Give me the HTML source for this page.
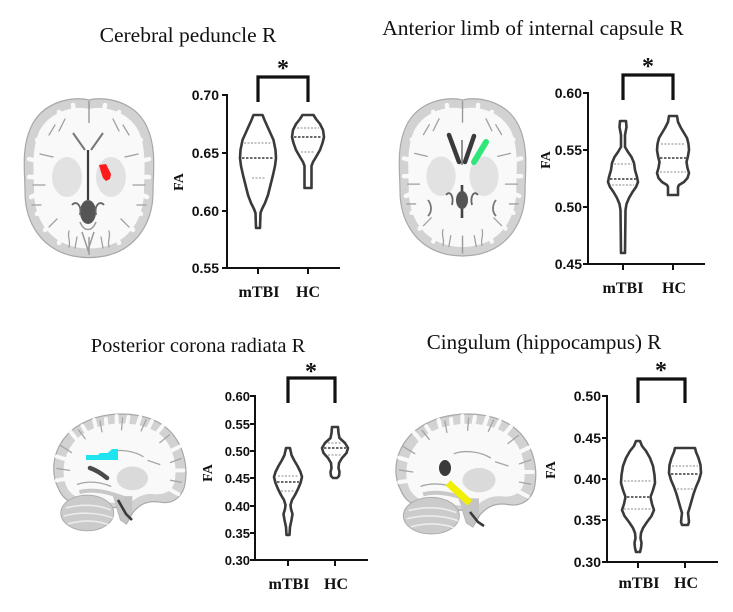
<!DOCTYPE html>
<html>
<head>
<meta charset="utf-8">
<style>
  html,body{margin:0;padding:0;background:#fff;}
  svg{display:block;}
  .title{font-family:"Liberation Serif",serif;font-size:21px;fill:#111;}
  .tick{font-family:"Liberation Sans",sans-serif;font-weight:bold;font-size:14px;fill:#111;}
  .tick13{font-family:"Liberation Sans",sans-serif;font-weight:bold;font-size:13px;fill:#111;}
  .grp{font-family:"Liberation Serif",serif;font-weight:bold;font-size:16px;fill:#111;}
  .fa{font-family:"Liberation Serif",serif;font-weight:bold;font-size:14px;fill:#111;}
  .star{font-family:"Liberation Serif",serif;font-weight:bold;font-size:24px;fill:#111;}
  .ax{stroke:#111;stroke-width:2;fill:none;}
  .br{stroke:#111;stroke-width:3.2;fill:none;stroke-linecap:butt;}
  .vio{stroke:#3a3a3a;stroke-width:2.6;fill:#fff;stroke-linejoin:round;}
  .ql{stroke:#b0b0b0;stroke-width:1.4;stroke-dasharray:2 1.5;}
  .md{stroke:#555;stroke-width:1.8;stroke-dasharray:2.5 1.5;}
</style>
</head>
<body>
<svg width="733" height="612" viewBox="0 0 733 612" xmlns="http://www.w3.org/2000/svg">
<defs>
  <g id="axial">
    <path d="M64,3 C80,-1 110,4 122,30 C132,52 128,75 128,95 C128,125 112,152 80,159 C70,161 58,161 48,159 C16,152 0,125 0,95 C0,75 -4,52 6,30 C18,4 48,-1 64,3 Z" fill="#d2d2d2" stroke="#a8a8a8" stroke-width="1.2"/>
    <path d="M64,12 C78,8 104,14 114,35 C122,54 119,76 119,94 C119,121 105,144 78,150 C70,152 58,152 50,150 C23,144 9,121 9,94 C9,76 6,54 14,35 C24,14 50,8 64,12 Z" fill="#f9f9f9"/>
    <g stroke="#f9f9f9" stroke-width="4.5" stroke-linecap="round">
      <line x1="112" y1="80" x2="124" y2="80"/>
      <line x1="106" y1="110" x2="116" y2="117"/>
      <line x1="88" y1="133" x2="94" y2="146"/>
      <line x1="40" y1="133" x2="34" y2="146"/>
      <line x1="22" y1="110" x2="12" y2="117"/>
      <line x1="16" y1="80" x2="4" y2="80"/>
      <line x1="22" y1="50" x2="12" y2="43"/>
      <line x1="40" y1="27" x2="34" y2="15"/>
      <line x1="88" y1="27" x2="94" y2="15"/>
      <line x1="106" y1="50" x2="116" y2="43"/>
      <line x1="110" y1="95" x2="122" y2="100"/>
      <line x1="18" y1="95" x2="6" y2="100"/>
      <line x1="50" y1="22" x2="48" y2="8"/>
      <line x1="78" y1="22" x2="80" y2="8"/>
      <line x1="112" y1="65" x2="124" y2="62"/>
      <line x1="16" y1="65" x2="4" y2="62"/>
      <line x1="100" y1="124" x2="108" y2="133"/>
      <line x1="28" y1="124" x2="20" y2="133"/>
    </g>
    <g stroke="#a0a0a0" stroke-width="1.3" stroke-linecap="round" fill="none">
      <path d="M100,60 L113,57"/><path d="M28,60 L15,57"/>
      <path d="M96,122 L104,130"/><path d="M32,122 L24,130"/>
      <path d="M76,140 L78,151"/><path d="M52,140 L50,151"/>
      <path d="M104,38 L98,28"/><path d="M24,38 L30,28"/>
      <path d="M112,108 L121,108"/><path d="M16,108 L7,108"/>
      <path d="M108,88 L120,88"/><path d="M20,88 L8,88"/>
      <path d="M94,34 L88,22"/><path d="M34,34 L40,22"/>
      <path d="M84,134 C86,140 82,144 84,150"/><path d="M44,134 C42,140 46,144 44,150"/>
    </g>
    <ellipse cx="42" cy="80" rx="15" ry="20" fill="#e2e2e2"/>
    <ellipse cx="86" cy="80" rx="15" ry="20" fill="#e2e2e2"/>
    <line x1="64" y1="4" x2="64" y2="26" stroke="#999" stroke-width="1.4"/>
    <line x1="64" y1="140" x2="64" y2="158" stroke="#999" stroke-width="1.4"/>
  </g>
  <g id="sag">
    <path d="M8,75 C-2,55 5,22 38,8 C62,-3 102,-2 122,18 C136,32 142,55 137,75 C133,88 122,92 112,90 C100,88 92,92 85,100 L78,112 L72,108 L68,95 C60,98 40,95 28,92 C18,90 12,85 8,75 Z" fill="#d2d2d2" stroke="#a8a8a8" stroke-width="1.2"/>
    <path d="M16,72 C10,56 16,28 41,17 C64,7 99,8 116,25 C127,37 130,56 127,70 C124,80 115,83 106,82 C96,81 88,85 82,91 L74,91 C60,91 40,89 30,86 C22,83 18,78 16,72 Z" fill="#f9f9f9"/>
    <g stroke="#f9f9f9" stroke-width="4" stroke-linecap="round">
      <line x1="30" y1="30" x2="21" y2="19"/><line x1="48" y1="20" x2="45" y2="7"/>
      <line x1="68" y1="16" x2="68" y2="3"/><line x1="88" y1="16" x2="92" y2="4"/>
      <line x1="106" y1="24" x2="115" y2="13"/><line x1="120" y1="40" x2="132" y2="34"/>
      <line x1="124" y1="58" x2="136" y2="58"/><line x1="120" y1="76" x2="131" y2="82"/>
      <line x1="20" y1="48" x2="7" y2="44"/><line x1="20" y1="66" x2="7" y2="68"/>
      <line x1="58" y1="18" x2="57" y2="6"/><line x1="78" y1="16" x2="80" y2="4"/>
      <line x1="98" y1="20" x2="104" y2="8"/><line x1="40" y1="24" x2="33" y2="13"/>
    </g>
    <g stroke="#a6a6a6" stroke-width="1.3" fill="none" stroke-linecap="round">
      <path d="M36,26 L29,17"/><path d="M53,19 L51,8"/><path d="M73,17 L74,5"/>
      <path d="M93,18 L98,7"/><path d="M112,30 L122,22"/><path d="M123,50 L134,46"/>
      <path d="M123,68 L134,70"/><path d="M22,40 L11,33"/><path d="M20,58 L7,56"/>
      <path d="M60,40 C70,36 85,38 95,44"/><path d="M100,48 L112,52"/>
      <path d="M28,72 C40,68 52,70 62,74"/>
    </g>
    <ellipse cx="38" cy="101" rx="27" ry="18" fill="#cbcbcb" stroke="#adadad" stroke-width="1"/>
    <g stroke="#ececec" stroke-width="1.6" fill="none">
      <path d="M16,96 C30,92 48,92 62,98"/><path d="M14,104 C30,100 48,100 64,106"/>
      <path d="M18,112 C32,108 48,108 60,113"/>
    </g>
    <path d="M64,84 L84,84 L84,100 L78,112 L72,108 L68,95 Z" fill="#c4c4c4"/>
    <ellipse cx="84" cy="66" rx="16" ry="12" fill="#dadada"/>
    <path d="M30,80 C44,76 60,80 76,86" stroke="#c8c8c8" stroke-width="4" fill="none"/>
  </g>
</defs>

<!-- ============ PANEL 1 ============ -->
<text class="title" x="188" y="42" text-anchor="middle" style="font-size:21.5px">Cerebral peduncle R</text>
<use href="#axial" transform="translate(25,97)"/>
<g>
  <path d="M85,150 L73,133 M91,150 L103,133" stroke="#777" stroke-width="2" fill="none"/>
  <line x1="88" y1="150" x2="88" y2="200" stroke="#3a3a3a" stroke-width="2.2"/>
  <ellipse cx="88" cy="212" rx="8" ry="12" fill="#555"/>
  <path d="M72,205 C76,200 82,205 80,215 M104,205 C100,200 94,205 96,215" stroke="#666" stroke-width="1.8" fill="none"/>
  <path d="M80,222 C84,232 92,232 96,222 M82,232 L88,250 L94,232" stroke="#999" stroke-width="1.5" fill="none"/>
  <path d="M99,165 L106,164 L109,170 L111,174 L110,179 L106,181 L103,178 L101,172 Z" fill="#ff1a1a"/>
</g>
<line class="ax" x1="227" y1="94" x2="227" y2="269"/>
<line class="ax" x1="226" y1="268" x2="340" y2="268"/>
<g class="ax">
  <line x1="222" y1="95" x2="227" y2="95"/><line x1="222" y1="153" x2="227" y2="153"/>
  <line x1="222" y1="211" x2="227" y2="211"/><line x1="222" y1="268" x2="227" y2="268"/>
  <line x1="258" y1="268" x2="258" y2="274"/><line x1="308" y1="268" x2="308" y2="274"/>
</g>
<g text-anchor="end">
  <text class="tick" x="219" y="100">0.70</text>
  <text class="tick" x="219" y="158">0.65</text>
  <text class="tick" x="219" y="216">0.60</text>
  <text class="tick" x="219" y="273">0.55</text>
</g>
<text class="fa" transform="translate(183,182) rotate(-90)" text-anchor="middle">FA</text>
<text class="grp" x="259" y="297" text-anchor="middle">mTBI</text>
<text class="grp" x="308" y="297" text-anchor="middle">HC</text>
<path class="br" d="M258,102 L258,77 L308,77 L308,102"/>
<text class="star" x="283" y="76" text-anchor="middle">*</text>
<path class="vio" d="M262.5,115 264.5,120 269,130 273.5,140 275.5,150 276,158 275,166 273,175 270.5,185 268,195 265,203 262,209 260.5,213 260,228 L256,228 255.5,213 254,209 251,203 248,195 245.5,185 243,175 241,166 240,158 240.5,150 242.5,140 247,130 251.5,120 253.5,115 Z"/>
<line class="ql" x1="244" y1="143" x2="272" y2="143"/>
<line class="md" x1="242" y1="158" x2="274" y2="158"/>
<line class="ql" x1="252" y1="178" x2="265" y2="178"/>
<path class="vio" d="M313.5,115 316,119 320,124 323,130 324,137 322.5,143 320,150 316,157 313,162 311.5,166 311.5,188 L304.5,188 304.5,166 303,162 300,157 296,150 293.5,143 292,137 293,130 296,124 300,119 302.5,115 Z"/>
<line class="ql" x1="297" y1="128" x2="319" y2="128"/>
<line class="md" x1="294" y1="137" x2="322" y2="137"/>
<line class="ql" x1="301" y1="152" x2="315" y2="152"/>

<!-- ============ PANEL 2 ============ -->
<text class="title" x="533" y="35" text-anchor="middle" style="font-size:21.5px">Anterior limb of internal capsule R</text>
<use href="#axial" transform="translate(400,97) scale(0.977,0.99)"/>
<g>
  <path d="M449,135 L459,162 M474,136 L465,162" stroke="#3a3a3a" stroke-width="4.5" fill="none" stroke-linecap="round"/>
  <line x1="462" y1="140" x2="462" y2="165" stroke="#666" stroke-width="1.4"/>
  <line x1="462" y1="185" x2="462" y2="218" stroke="#444" stroke-width="2.6"/>
  <ellipse cx="462" cy="200" rx="6" ry="9" fill="#555"/>
  <path d="M446,195 C450,190 454,196 452,205 M478,195 C474,190 470,196 472,205" stroke="#666" stroke-width="1.8" fill="none"/>
  <path d="M428,200 C432,205 432,212 428,216 M496,200 C492,205 492,212 496,216" stroke="#777" stroke-width="1.8" fill="none"/>
  <path d="M486,142 L474,162" stroke="#2fe67a" stroke-width="6" stroke-linecap="round"/>
</g>
<line class="ax" x1="588" y1="92" x2="588" y2="265"/>
<line class="ax" x1="587" y1="264" x2="705" y2="264"/>
<g class="ax">
  <line x1="583" y1="93" x2="588" y2="93"/><line x1="583" y1="150" x2="588" y2="150"/>
  <line x1="583" y1="207" x2="588" y2="207"/><line x1="583" y1="264" x2="588" y2="264"/>
  <line x1="623" y1="264" x2="623" y2="270"/><line x1="673" y1="264" x2="673" y2="270"/>
</g>
<g text-anchor="end">
  <text class="tick" x="582" y="98">0.60</text>
  <text class="tick" x="582" y="155">0.55</text>
  <text class="tick" x="582" y="212">0.50</text>
  <text class="tick" x="582" y="269">0.45</text>
</g>
<text class="fa" transform="translate(550,160) rotate(-90)" text-anchor="middle">FA</text>
<text class="grp" x="623" y="293" text-anchor="middle">mTBI</text>
<text class="grp" x="674" y="293" text-anchor="middle">HC</text>
<path class="br" d="M623,100 L623,75 L673,75 L673,100"/>
<text class="star" x="648" y="74" text-anchor="middle">*</text>
<path class="vio" d="M626,121 626.5,127 625,135 625,147 628,152 631.5,157 634,163 635,170 637,177 638,182 636,187 632.5,192 629,198 626.5,204 625.5,210 625,253 L621,253 620.5,210 619.5,204 617,198 613.5,192 610,187 608,182 609,177 611,170 612,163 614.5,157 618,152 621,147 621,135 619.5,127 620,121 Z"/>
<line class="ql" x1="614" y1="164" x2="632" y2="164"/>
<line class="md" x1="610" y1="179" x2="636" y2="179"/>
<line class="ql" x1="612" y1="185" x2="634" y2="185"/>
<path class="vio" d="M677,116 678,122 681,128 684,133 687,138 688.5,144 689,150 688,156 686.5,162 687.5,168 689,173 687.5,178 684,182 679,185 678,187 678,195 L668,195 668,187 667,185 662,182 658.5,178 657,173 658.5,168 659.5,162 658,156 657,150 657.5,144 659,138 662,133 665,128 668,122 669,116 Z"/>
<line class="ql" x1="661" y1="144" x2="685" y2="144"/>
<line class="md" x1="660" y1="158" x2="686" y2="158"/>
<line class="ql" x1="660" y1="172" x2="686" y2="172"/>

<!-- ============ PANEL 3 ============ -->
<text class="title" x="198" y="352" text-anchor="middle" style="font-size:20.5px">Posterior corona radiata R</text>
<use href="#sag" transform="translate(50,413) scale(0.98,0.99)"/>
<g>
  <path d="M90,468 C96,470 102,474 107,478" stroke="#4a4a4a" stroke-width="4.5" fill="none" stroke-linecap="round"/>
  <path d="M118,500 L126,514 L132,520" stroke="#3a3a3a" stroke-width="2.6" fill="none"/>
  <path d="M86,455 L98,455 L100,453 L108,453 L112,449 L118,449 L118,460 L86,460 Z" fill="#1de4ee"/>
</g>
<line class="ax" x1="255" y1="395" x2="255" y2="561"/>
<line class="ax" x1="254" y1="560" x2="368" y2="560"/>
<g class="ax">
  <line x1="250" y1="396" x2="255" y2="396"/><line x1="250" y1="424" x2="255" y2="424"/>
  <line x1="250" y1="451" x2="255" y2="451"/><line x1="250" y1="478" x2="255" y2="478"/>
  <line x1="250" y1="506" x2="255" y2="506"/><line x1="250" y1="533" x2="255" y2="533"/>
  <line x1="250" y1="560" x2="255" y2="560"/>
  <line x1="288" y1="560" x2="288" y2="566"/><line x1="335" y1="560" x2="335" y2="566"/>
</g>
<g text-anchor="end">
  <text class="tick13" x="250" y="401">0.60</text>
  <text class="tick13" x="250" y="429">0.55</text>
  <text class="tick13" x="250" y="456">0.50</text>
  <text class="tick13" x="250" y="483">0.45</text>
  <text class="tick13" x="250" y="511">0.40</text>
  <text class="tick13" x="250" y="538">0.35</text>
  <text class="tick13" x="250" y="565">0.30</text>
</g>
<text class="fa" transform="translate(212,473) rotate(-90)" text-anchor="middle">FA</text>
<text class="grp" x="289" y="589" text-anchor="middle">mTBI</text>
<text class="grp" x="336" y="589" text-anchor="middle">HC</text>
<path class="br" d="M288,403 L288,378 L335,378 L335,403"/>
<text class="star" x="311" y="379" text-anchor="middle">*</text>
<path class="vio" d="M290,448 291.5,455 294,460 297.5,466 300.5,472 302,477 300.5,483 298,489 295,495 292,500 290.5,505 291,509 292.5,514 291.5,520 290,527 289.5,535 L286.5,535 286,527 284.5,520 283.5,514 285,509 285.5,505 284,500 281,495 278,489 275.5,483 274,477 275.5,472 278.5,466 282,460 284.5,455 286,448 Z"/>
<line class="ql" x1="278" y1="476" x2="298" y2="476"/>
<line class="md" x1="277" y1="482" x2="299" y2="482"/>
<line class="ql" x1="281" y1="491" x2="295" y2="491"/>
<path class="vio" d="M338,427 338.5,433 339.5,438 345,443 348,448 346.5,453 342,458 339,463 338.5,468 339.5,472 339,476 337,478 L333,478 331,476 330.5,472 331.5,468 331,463 328,458 323.5,453 322,448 325,443 330.5,438 331.5,433 332,427 Z"/>
<line class="ql" x1="328" y1="443" x2="342" y2="443"/>
<line class="md" x1="324" y1="448" x2="346" y2="448"/>
<line class="ql" x1="328" y1="455" x2="342" y2="455"/>

<!-- ============ PANEL 4 ============ -->
<text class="title" x="544" y="349" text-anchor="middle" style="font-size:21px">Cingulum (hippocampus) R</text>
<use href="#sag" transform="translate(392,413) scale(1.036,1.017)"/>
<g>
  <ellipse cx="445" cy="468" rx="6" ry="8" fill="#3a3a3a"/>
  <path d="M470,512 L478,522 L484,526" stroke="#3a3a3a" stroke-width="2.6" fill="none"/>
  <path d="M448,483 L470,503" stroke="#f2ef00" stroke-width="7" stroke-linecap="butt"/>
</g>
<line class="ax" x1="607" y1="395" x2="607" y2="563"/>
<line class="ax" x1="606" y1="562" x2="718" y2="562"/>
<g class="ax">
  <line x1="602" y1="396" x2="607" y2="396"/><line x1="602" y1="438" x2="607" y2="438"/>
  <line x1="602" y1="479" x2="607" y2="479"/><line x1="602" y1="520" x2="607" y2="520"/>
  <line x1="602" y1="562" x2="607" y2="562"/>
  <line x1="638" y1="562" x2="638" y2="568"/><line x1="685" y1="562" x2="685" y2="568"/>
</g>
<g text-anchor="end">
  <text class="tick" x="601" y="401">0.50</text>
  <text class="tick" x="601" y="443">0.45</text>
  <text class="tick" x="601" y="484">0.40</text>
  <text class="tick" x="601" y="525">0.35</text>
  <text class="tick" x="601" y="567">0.30</text>
</g>
<text class="fa" transform="translate(555,470) rotate(-90)" text-anchor="middle">FA</text>
<text class="grp" x="639" y="588" text-anchor="middle">mTBI</text>
<text class="grp" x="686" y="588" text-anchor="middle">HC</text>
<path class="br" d="M638,403 L638,379 L685,379 L685,403"/>
<text class="star" x="661" y="378" text-anchor="middle">*</text>
<path class="vio" d="M640,441 642,446 646,451 650,458 653,466 654.5,475 655,483 653,490 650.5,497 652,504 654,510 651.5,516 647,522 643,528 641,533 640.5,538 641.5,543 641,548 640,552 L636,552 635,548 634.5,543 635.5,538 635,533 633,528 629,522 624.5,516 622,510 624,504 625.5,497 623,490 621,483 621.5,475 623,466 626,458 630,451 634,446 636,441 Z"/>
<line class="ql" x1="624" y1="481" x2="652" y2="481"/>
<line class="md" x1="627" y1="497" x2="649" y2="497"/>
<line class="ql" x1="624" y1="509" x2="652" y2="509"/>
<path class="vio" d="M695,448 696,452 698.5,458 700.5,465 701,473 699,480 696,487 693.5,494 691.5,501 689.5,508 688,513 688.5,517 689,522 688,525 L682,525 681,522 681.5,517 682,513 680.5,508 678.5,501 676.5,494 674,487 671,480 669,473 669.5,465 671.5,458 674,452 675,448 Z"/>
<line class="ql" x1="672" y1="466" x2="698" y2="466"/>
<line class="md" x1="671" y1="474" x2="699" y2="474"/>
<line class="ql" x1="677" y1="489" x2="693" y2="489"/>
</svg>
</body>
</html>
